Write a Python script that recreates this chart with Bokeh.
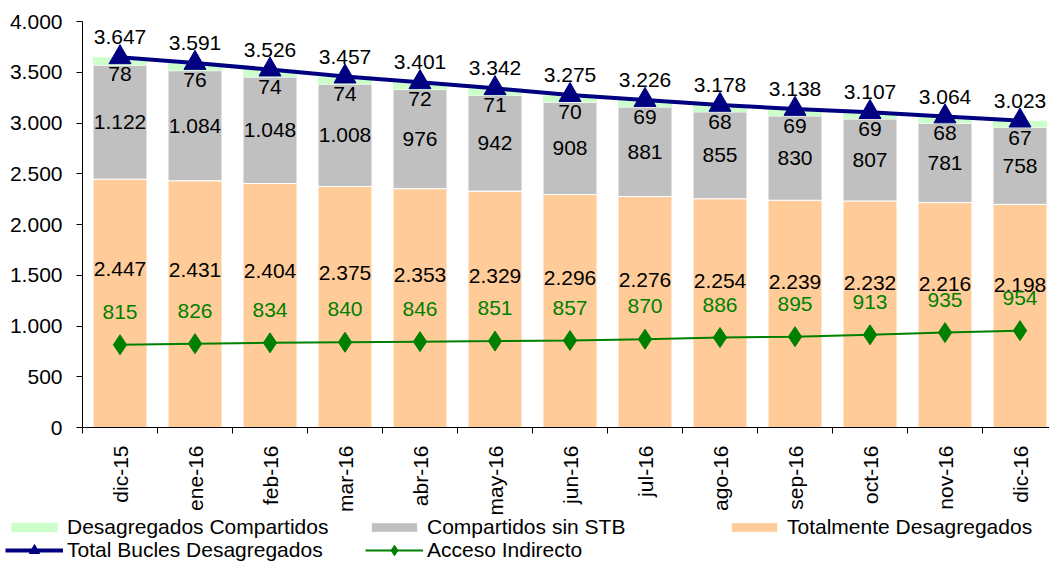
import math
from bokeh.plotting import figure
from bokeh.models import (ColumnDataSource, FixedTicker, Range1d, Legend, LegendItem)
from bokeh.embed import file_html
from bokeh.resources import INLINE
from bokeh.core.properties import value

months = ["dic-15", "ene-16", "feb-16", "mar-16", "abr-16", "may-16", "jun-16",
          "jul-16", "ago-16", "sep-16", "oct-16", "nov-16", "dic-16"]
totalmente = [2447, 2431, 2404, 2375, 2353, 2329, 2296, 2276, 2254, 2239, 2232, 2216, 2198]
compartidos_sin_stb = [1122, 1084, 1048, 1008, 976, 942, 908, 881, 855, 830, 807, 781, 758]
desag_compartidos = [78, 76, 74, 74, 72, 71, 70, 69, 68, 69, 69, 68, 67]
total_bucles = [3647, 3591, 3526, 3457, 3401, 3342, 3275, 3226, 3178, 3138, 3107, 3064, 3023]
acceso_indirecto = [815, 826, 834, 840, 846, 851, 857, 870, 886, 895, 913, 935, 954]
y_ticks = [0, 500, 1000, 1500, 2000, 2500, 3000, 3500, 4000]


def fmt(v):
    return f"{v:,}".replace(",", ".")


FONT = value("Liberation Sans")
FS = "21px"
xs = list(range(len(months)))
top1 = totalmente
top2 = [a + b for a, b in zip(totalmente, compartidos_sin_stb)]
top3 = [a + b for a, b in zip(top2, desag_compartidos)]

src = ColumnDataSource(dict(
    x=xs, top1=top1, top2=top2, top3=top3,
    mid2=[(a + b) / 2 for a, b in zip(top1, top2)],
    lab1_y=[0.64 * v for v in totalmente],
    tot=total_bucles, acc=acceso_indirecto,
    l1=[fmt(v) for v in totalmente],
    l2=[fmt(v) for v in compartidos_sin_stb],
    l3=[fmt(v) for v in desag_compartidos],
    lt=[fmt(v) for v in total_bucles],
    la=[fmt(v) for v in acceso_indirecto],
))

# Canvas geometry (pixels): plot area from x=82 (left) to the right edge,
# y=21 (value 4000) to y=427 (value 0); one category = 75 px.
W, H = 1049, 562
PX_LEFT, PX_TOP, PX_ZERO = 82, 21, 427
cat_px = 75.0
ymax = 4000
u_per_px = ymax / (PX_ZERO - PX_TOP)
x0 = -0.5 - PX_LEFT / cat_px
x1 = -0.5 + (W - PX_LEFT) / cat_px
y0 = -(H - PX_ZERO) * u_per_px
y1 = ymax + PX_TOP * u_per_px

p = figure(width=W, height=H, output_backend="svg", toolbar_location=None,
           x_range=Range1d(x0, x1), y_range=Range1d(y0, y1),
           min_border_left=0, min_border_right=0, min_border_top=0,
           min_border_bottom=0)
p.outline_line_color = None
p.xgrid.visible = False
p.ygrid.visible = False
p.background_fill_color = "white"
p.border_fill_color = "white"

bw = 0.72
r1 = p.vbar(x="x", bottom=0, top="top1", width=bw, source=src,
            fill_color="#FFCC99", line_color="white", line_width=1)
r2 = p.vbar(x="x", bottom="top1", top="top2", width=bw, source=src,
            fill_color="#C0C0C0", line_color="white", line_width=1)
r3 = p.vbar(x="x", bottom="top2", top="top3", width=bw, source=src,
            fill_color="#CCFFCC", line_color=None)

la = p.line(x="x", y="acc", source=src, line_color="#008000", line_width=2)
sa = p.scatter(x="x", y="acc", source=src, marker="diamond", size=20,
               fill_color="#008000", line_color="#008000")
lt = p.line(x="x", y="tot", source=src, line_color="#000080", line_width=4)
st = p.scatter(x="x", y="tot", source=src, marker="triangle", size=22,
               fill_color="#000080", line_color="#000080")

common = dict(source=src, text_font=FONT, text_font_size=FS,
              text_align="center", text_baseline="middle")
p.text(x="x", y="lab1_y", text="l1", text_color="black", **common)
p.text(x="x", y="mid2", text="l2", text_color="black", **common)
p.text(x="x", y="top3", text="l3", text_color="black", y_offset=17, **common)
p.text(x="x", y="tot", text="lt", text_color="black", y_offset=-20, **common)
p.text(x="x", y="acc", text="la", text_color="#008000", y_offset=-33, **common)

# Y axis, pinned at the left edge of the category area
ya = p.yaxis[0]
ya.fixed_location = -0.5
ya.bounds = (0, ymax)
ya.ticker = FixedTicker(ticks=y_ticks)
ya.major_label_overrides = {t: fmt(t) for t in y_ticks}
ya.major_tick_out = 6
ya.major_tick_in = 0
ya.minor_tick_out = 0
ya.minor_tick_in = 0
ya.major_label_standoff = 14
ya.major_label_text_font = "Liberation Sans"
ya.major_label_text_font_size = FS
ya.major_label_text_color = "black"
ya.axis_line_color = "black"
ya.major_tick_line_color = "black"

# X axis, pinned at y = 0
xa = p.xaxis[0]
xa.fixed_location = 0
xa.bounds = (-0.5, x1)
xa.ticker = FixedTicker(ticks=xs, minor_ticks=[i - 0.5 for i in range(len(months) + 1)])
xa.major_label_overrides = {i: m for i, m in zip(xs, months)}
xa.major_label_orientation = math.pi / 2
xa.major_tick_out = 0
xa.major_tick_in = 0
xa.minor_tick_out = 6
xa.minor_tick_in = 0
xa.minor_tick_line_color = "black"
xa.major_label_standoff = 12
xa.major_label_text_font = "Liberation Sans"
xa.major_label_text_font_size = FS
xa.major_label_text_color = "black"
xa.axis_line_color = "black"


def make_legend(items, loc, gh):
    lg = Legend(items=items, orientation="horizontal", location=loc)
    lg.glyph_width = 58
    lg.glyph_height = gh
    lg.label_height = 20
    lg.label_width = 295
    lg.label_standoff = 4
    lg.spacing = 3
    lg.padding = 0
    lg.margin = 0
    lg.border_line_color = None
    lg.background_fill_alpha = 0
    lg.label_text_font = "Liberation Sans"
    lg.label_text_font_size = FS
    lg.label_text_color = "black"
    return lg


legend1 = make_legend([
    LegendItem(label="Desagregados Compartidos", renderers=[r3]),
    LegendItem(label="Compartidos sin STB", renderers=[r2]),
    LegendItem(label="Totalmente Desagregados", renderers=[r1]),
], (5, 23), 12)
legend2 = make_legend([
    LegendItem(label="Total Bucles Desagregados", renderers=[lt, st]),
    LegendItem(label="Acceso Indirecto", renderers=[la, sa]),
], (5, -1), 26)
p.add_layout(legend1)
p.add_layout(legend2)

open("out.html", "w").write(file_html(p, INLINE))
